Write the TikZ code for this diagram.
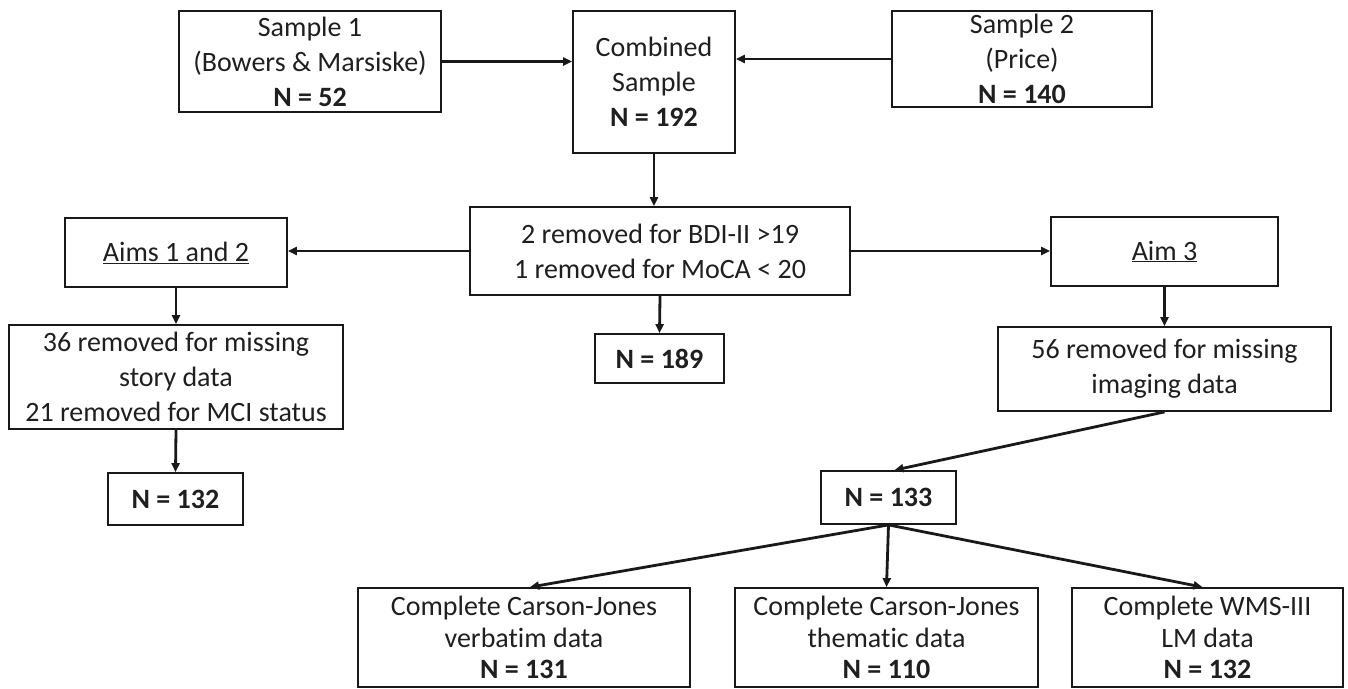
\documentclass[tikz,border=0pt]{standalone}
\usepackage{fontspec}
\setmainfont{Carlito}[Ligatures=NoCommon]
\usetikzlibrary{arrows.meta}
\tikzset{
  box/.style={draw=black!90, line width=1.8pt, inner sep=0pt, align=center,
    font=\fontsize{28}{35}\selectfont, text=black!88},
  lowbox/.style={box, font=\fontsize{28}{31.5}\selectfont},
  arr/.style={draw=black!90, line width=2.8pt, -{Triangle[length=9pt,width=8pt]}},
}
\begin{document}
\begin{tikzpicture}[x=1pt,y=-1pt]
\useasboundingbox (0,0) rectangle (1348,688);
\node[box, minimum width=262pt, minimum height=101pt] (s1) at (310,61.5) {Sample 1\\(Bowers \& Marsiske)\\\textbf{N = 52}};
\node[box, minimum width=162pt, minimum height=142pt] (comb) at (654,82) {Combined\\Sample\\\textbf{N = 192}};
\node[box, minimum width=260pt, minimum height=96pt] (s2) at (1022,59) {Sample 2\\(Price)\\\textbf{N = 140}};
\node[box, minimum width=380pt, minimum height=88pt] (mid) at (660,251) {2 removed for BDI-II >19\\1 removed for MoCA < 20};
\node[box, minimum width=222pt, minimum height=69pt] (a12) at (176,252.5) {\underline{Aims 1 and 2}};
\node[box, minimum width=227pt, minimum height=69pt] (a3) at (1164.5,251.5) {\underline{Aim 3}};
\node[box, minimum width=334pt, minimum height=104pt] (r36) at (176,377) {36 removed for missing\\story data\\21 removed for MCI status};
\node[box, minimum width=129pt, minimum height=49pt] (n189) at (659.5,358.5) {\textbf{N = 189}};
\node[box, minimum width=333pt, minimum height=84pt] (r56) at (1164.5,369) {56 removed for missing\\imaging data};
\node[box, minimum width=135pt, minimum height=52pt] (n132) at (175.5,499) {\textbf{N = 132}};
\node[box, minimum width=135pt, minimum height=53pt] (n133) at (888.5,497.5) {\textbf{N = 133}};
\node[lowbox, minimum width=332pt, minimum height=99pt] (b1) at (524,637.5) {Complete Carson-Jones\\verbatim data\\\textbf{N = 131}};
\node[lowbox, minimum width=303pt, minimum height=99pt] (b2) at (886.5,637.5) {Complete Carson-Jones\\thematic data\\\textbf{N = 110}};
\node[lowbox, minimum width=271pt, minimum height=99pt] (b3) at (1207.5,637.5) {Complete WMS-III\\LM data\\\textbf{N = 132}};

\draw[arr] (s1.east) -- (comb.west |- s1.east);
\draw[arr] (s2.west) -- (comb.east |- s2.west);
\draw[arr] (comb.south) -- (comb.south |- mid.north);
\draw[arr] (mid.west) -- (a12.east |- mid.west);
\draw[arr] (mid.east) -- (a3.west |- mid.east);
\draw[arr] (mid.south) -- (n189.north);
\draw[arr] (a12.south) -- (r36.north);
\draw[arr] (r36.south) -- (n132.north);
\draw[arr] (a3.south) -- (r56.north);
\draw[arr] (r56.south) -- ([xshift=6pt]n133.north);
\draw[arr] (n133.south) -- ([xshift=6pt]b1.north);
\draw[arr] (n133.south) -- (b2.north);
\draw[arr] (n133.south) -- ([xshift=-5pt]b3.north);
\end{tikzpicture}
\end{document}
